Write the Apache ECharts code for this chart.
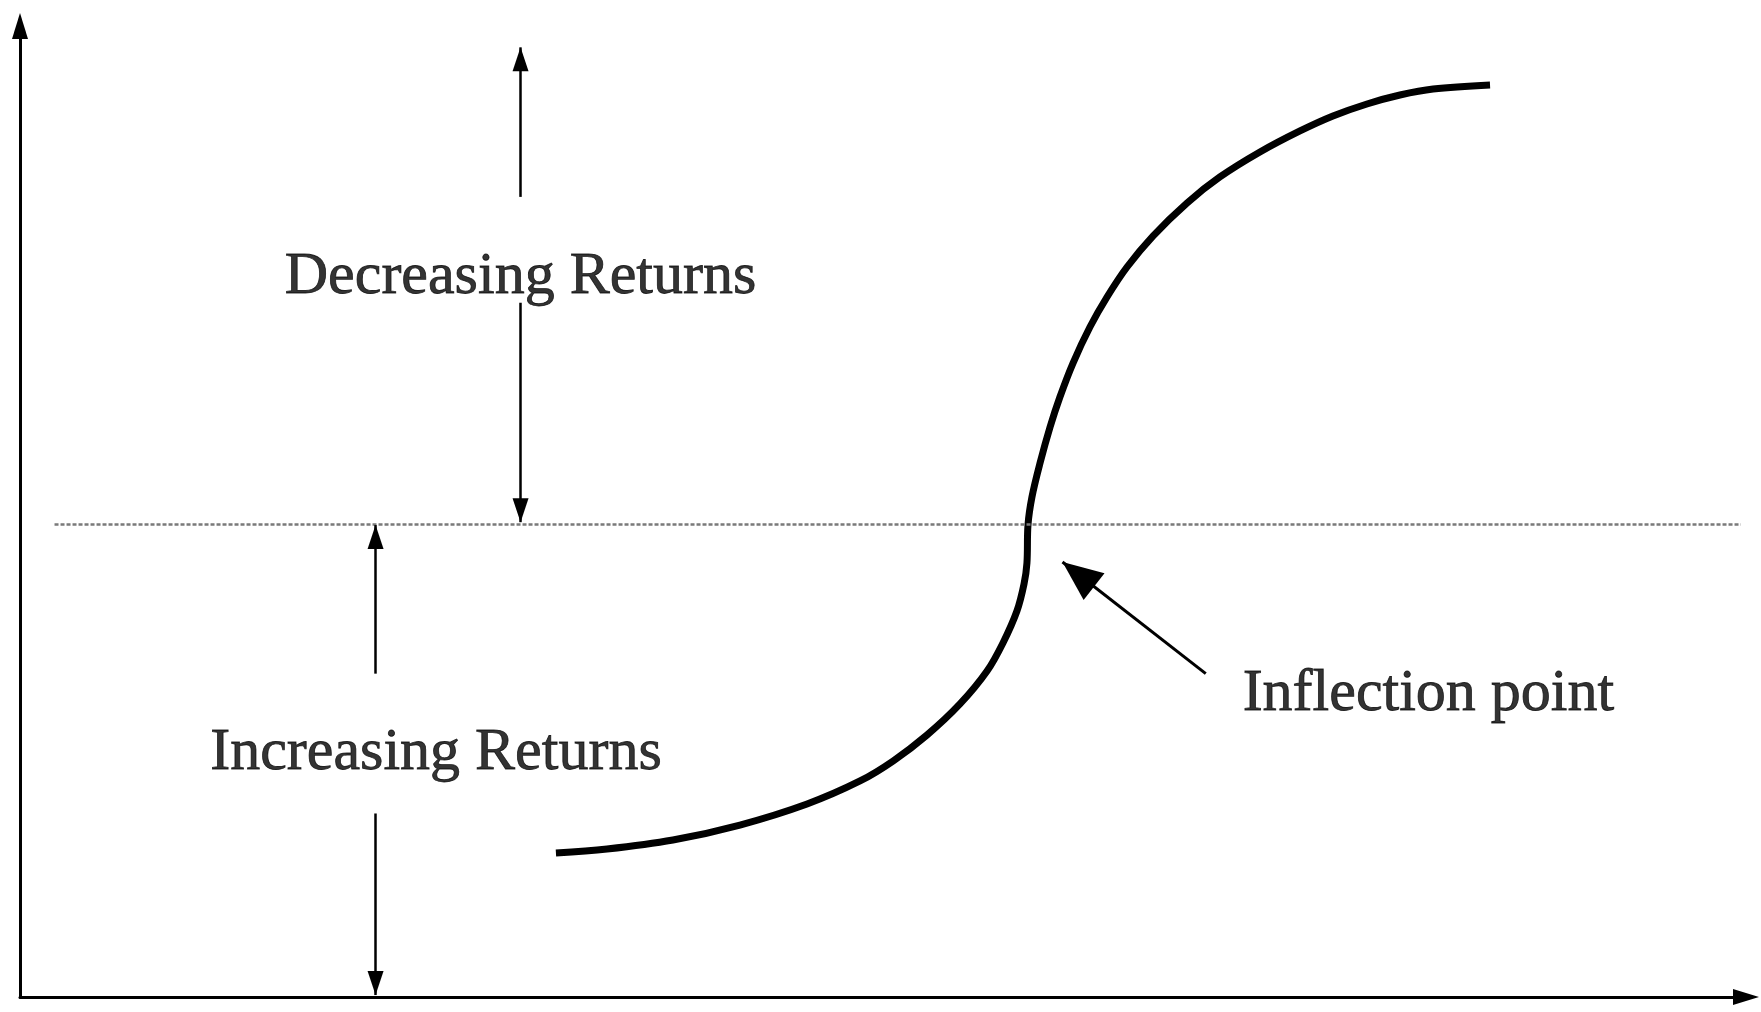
<!DOCTYPE html>
<html lang="en">
<head>
<meta charset="UTF-8">
<title>Increasing and decreasing returns</title>
<style>
  html, body { margin: 0; padding: 0; background: #fff; }
  #chart { width: 1761px; height: 1012px; }
</style>
</head>
<body>
<div id="chart"></div>
<script src="https://cdn.jsdelivr.net/npm/echarts@6/dist/echarts.min.js"></script>
<script>
// S curve, both axes run 0 - 100
var curveX = [31.05, 34.01, 37.83, 41.71, 45.60, 48.67, 50.58, 52.55, 54.46, 56.03,
              56.95, 57.76, 58.17, 58.34, 58.40, 58.63, 59.10, 59.68, 60.25, 61.01,
              61.99, 62.98, 64.14, 65.64, 67.61, 69.52, 71.84, 74.16, 76.07, 78.04,
              79.95, 81.87, 85.17];
var curveY = [14.83, 15.24, 16.17, 17.71, 19.88, 22.25, 24.30, 26.98, 30.18, 33.57,
              36.46, 39.75, 42.53, 44.70, 48.61, 51.49, 55.00, 58.70, 61.79, 65.29,
              69.00, 72.09, 75.18, 78.37, 81.77, 84.45, 87.02, 89.19, 90.73, 91.97,
              92.89, 93.51, 93.92];

// dotted level through the inflection point
var levelY = 48.7;
var levelX = [2, 99.7];

// arrows, head at the second point: [x1, y1, x2, y2]
var rangeArrows = [
    [29.0, 82.4, 29.0, 97.8],
    [29.0, 71.5, 29.0, 48.9],
    [20.6, 33.3, 20.6, 48.6],
    [20.6, 18.9, 20.6, 0.2]
];
var pointerArrow = [68.7, 33.3, 60.4, 44.8];

// text labels
var labelNames = ['Decreasing Returns', 'Increasing Returns', 'Inflection point'];
var labelX = [29.0, 24.1, 81.6];
var labelY = [74.1, 25.1, 31.2];

var chart = echarts.init(document.getElementById('chart'));

var curveData = [];
for (var i = 0; i < curveX.length; i++) {
    curveData.push([curveX[i], curveY[i]]);
}

// head is a triangle whose tip sits right on the end point
var arrowPair = function (a, headW, headH) {
    return [
        { coord: [a[0], a[1]], symbol: 'none' },
        { coord: [a[2], a[3]], symbol: 'triangle', symbolSize: [headW, headH], symbolOffset: [0, headH / 2] }
    ];
};

var labelData = [];
for (var j = 0; j < labelNames.length; j++) {
    labelData.push({ name: labelNames[j], value: [labelX[j], labelY[j]] });
}

var axisLineStyle = {
    show: true,
    onZero: false,
    symbol: ['none', 'triangle'],
    symbolSize: [16, 26],
    lineStyle: { color: '#000', width: 3 }
};

var option = {
    animation: false,
    backgroundColor: '#fff',
    grid: { left: 20, right: 15, top: 26, bottom: 15, containLabel: false },
    xAxis: {
        type: 'value', min: 0, max: 100,
        axisLine: axisLineStyle,
        axisTick: { show: false }, axisLabel: { show: false }, splitLine: { show: false }
    },
    yAxis: {
        type: 'value', min: 0, max: 100,
        axisLine: axisLineStyle,
        axisTick: { show: false }, axisLabel: { show: false }, splitLine: { show: false }
    },
    series: [
        {
            // dotted level line
            type: 'line', data: [], z: 1, silent: true,
            markLine: {
                silent: true, symbol: 'none', label: { show: false },
                lineStyle: { color: '#7a7a7a', width: 2.5, type: [4, 2] },
                data: [[{ coord: [levelX[0], levelY] }, { coord: [levelX[1], levelY] }]]
            }
        },
        {
            type: 'line', data: curveData, z: 3, silent: true,
            showSymbol: false, smooth: 0.35,
            lineStyle: { color: '#000', width: 7, cap: 'butt' }
        },
        {
            // up / down arrows
            type: 'line', data: [], z: 2, silent: true,
            markLine: {
                silent: true,
                label: { show: false },
                lineStyle: { color: '#000', width: 2.5, type: 'solid' },
                data: rangeArrows.map(function (a) { return arrowPair(a, 16, 24); })
            }
        },
        {
            // arrow to the inflection point
            type: 'line', data: [], z: 2, silent: true,
            markLine: {
                silent: true,
                label: { show: false },
                lineStyle: { color: '#000', width: 3, type: 'solid' },
                data: [arrowPair(pointerArrow, 34, 40)]
            }
        },
        {
            type: 'scatter', data: labelData, z: 4, silent: true,
            symbolSize: 1, itemStyle: { color: 'rgba(0,0,0,0)' },
            label: {
                show: true, position: 'inside', formatter: '{b}',
                color: '#000', fontSize: 60, fontFamily: 'Liberation Serif',
                textBorderColor: '#000', textBorderWidth: 0.8
            }
        }
    ]
};

chart.setOption(option);
</script>
</body>
</html>
